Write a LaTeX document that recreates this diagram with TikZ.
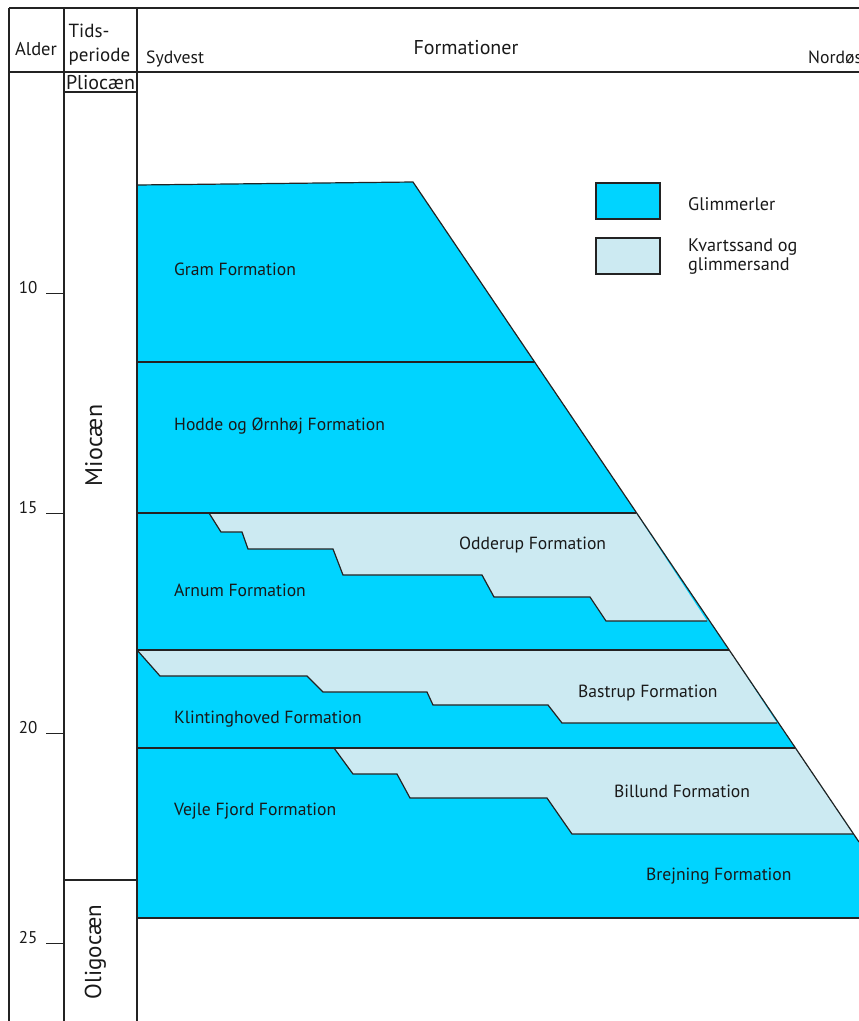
\documentclass[tikz,border=0pt]{standalone}
\usepackage{fontspec}
\setmainfont{PT Sans}
\definecolor{glim}{RGB}{0,212,255}
\definecolor{kvarts}{RGB}{204,234,242}
\definecolor{ln}{RGB}{35,35,35}
\begin{document}
\begin{tikzpicture}[x=1pt,y=-1pt,
  lbl/.style={anchor=base west,inner sep=0pt,font=\fontsize{17.6}{20}\selectfont,text=black!90},
  hdr/.style={inner sep=0pt,font=\fontsize{19}{21}\selectfont,text=black!90},
  tick/.style={anchor=base east,inner sep=0pt,font=\fontsize{17}{19}\selectfont,text=black!90},
  bnd/.style={draw=ln,line width=1.2pt},
  col/.style={draw=ln,line width=1.2pt}]
\useasboundingbox (0,0) rectangle (859,1021);
% main blue body
\fill[glim] (137,185) -- (413,182) -- (859,842) -- (859,918) -- (137,918) -- cycle;
% light units
\fill[kvarts] (209,513) -- (636,513) -- (707,621) -- (606,621) -- (590,597) -- (494,597) -- (482,575) -- (343,575) -- (333,549) -- (248,549) -- (242,532) -- (221,532) -- cycle;
\fill[kvarts] (137,650) -- (729,650) -- (777,723) -- (562,723) -- (548,705) -- (433,705) -- (427,692) -- (323,692) -- (307,676) -- (160,676) -- cycle;
\fill[kvarts] (334,748) -- (795,748) -- (853,834) -- (572,834) -- (547,798) -- (410,798) -- (397,774) -- (353,774) -- cycle;
% outline of body
\draw[bnd,line join=miter] (137,185) -- (413,182) -- (859,842);
\draw[bnd] (137,918) -- (859,918);
% horizontal boundaries
\draw[bnd] (137,362) -- (534,362);
\draw[bnd] (137,513) -- (636,513);
\draw[bnd] (137,650) -- (729,650);
\draw[bnd] (137,748) -- (795,748);
% staircase boundaries
\draw[bnd] (209,513) -- (221,532) -- (242,532) -- (248,549) -- (333,549) -- (343,575) -- (482,575) -- (494,597) -- (590,597) -- (606,621) -- (707,621);
\draw[bnd] (137,650) -- (160,676) -- (307,676) -- (323,692) -- (427,692) -- (433,705) -- (548,705) -- (562,723) -- (777,723);
\draw[bnd] (334,748) -- (353,774) -- (397,774) -- (410,798) -- (547,798) -- (572,834) -- (853,834);
% frame and columns
\draw[col] (9,8) -- (859,8);
\draw[col] (9,72) -- (859,72);
\draw[col] (9,8) -- (9,1021);
\draw[col] (64,8) -- (64,1021);
\draw[col] (137,8) -- (137,1021);
\draw[col] (64,92) -- (137,92);
\draw[col] (64,880) -- (137,880);
% ticks
\foreach \yy/\t in {293/10,513/15,733/20,943/25}{
  \draw[col,line width=1pt] (46,\yy) -- (64,\yy);
  \node[tick] (t\t) at (37.5,\yy) {\t};
}
% header
\node[hdr,anchor=base,font=\fontsize{18.5}{21}\selectfont] (alder) at (36,55) {Alder};
\node[hdr,anchor=base west] (tids) at (68.5,37) {Tids-};
\node[hdr,anchor=base west] (periode) at (68.5,61) {periode};
\node[hdr,anchor=base west,font=\fontsize{17.7}{20}\selectfont] (sv) at (146,63) {Sydvest};
\node[hdr,anchor=base,font=\fontsize{20}{22}\selectfont] (form) at (466,54) {Formationer};
\node[hdr,anchor=base west,font=\fontsize{17.7}{20}\selectfont] (no) at (808,63) {Nordøst};
\node[hdr,anchor=base,font=\fontsize{20}{22}\selectfont] (plio) at (100.5,89) {Pliocæn};
\node[hdr,anchor=base,rotate=90,font=\fontsize{24}{26}\selectfont] (mio) at (102,445.5) {Miocæn};
\node[hdr,anchor=base,rotate=90,font=\fontsize{23}{25}\selectfont] (oli) at (101,952) {Oligocæn};
% formation labels
\node[lbl] (gram) at (174,275) {Gram Formation};
\node[lbl] (hodde) at (174,430) {Hodde og Ørnhøj Formation};
\node[lbl] (odd) at (459,549) {Odderup Formation};
\node[lbl] (arn) at (174,596) {Arnum Formation};
\node[lbl] (bas) at (578,697) {Bastrup Formation};
\node[lbl] (kli) at (174,723) {Klintinghoved Formation};
\node[lbl] (vej) at (174,815) {Vejle Fjord Formation};
\node[lbl] (bil) at (614,797) {Billund Formation};
\node[lbl] (bre) at (646,880) {Brejning Formation};
% legend
\draw[bnd,fill=glim] (596,183) rectangle (660,219);
\draw[bnd,fill=kvarts] (596,238) rectangle (660,274);
\node[lbl,font=\fontsize{18.2}{20}\selectfont] (lg1) at (688,210) {Glimmerler};
\node[lbl,font=\fontsize{18.2}{20}\selectfont] (lg2) at (688,251) {Kvartssand og};
\node[lbl,font=\fontsize{18.2}{20}\selectfont] (lg3) at (688,270) {glimmersand};
\end{tikzpicture}
\end{document}
